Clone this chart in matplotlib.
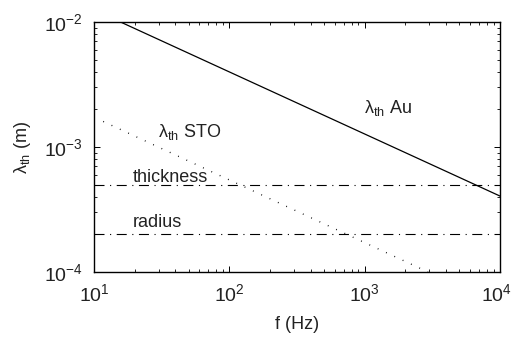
import numpy as np
from matplotlib import pyplot as plt
from matplotlib.ticker import LogLocator, FixedLocator, NullFormatter
from matplotlib.transforms import ScaledTranslation

plt.rcParams['font.family'] = ['Liberation Sans', 'DejaVu Sans']
plt.rcParams['mathtext.fontset'] = 'custom'
plt.rcParams['mathtext.rm'] = 'Liberation Sans'
plt.rcParams['mathtext.it'] = 'Liberation Sans'
plt.rcParams['mathtext.default'] = 'regular'

# end points (straight lines on log-log axes)
au_f = [15.7, 1e4]
au_lam = [1e-2, 4.05e-4]
sto_f = [11.7, 2940]
sto_lam = [1.6e-3, 1e-4]
thickness = 5e-4
radius = 2e-4
xlim = [10, 1e4]
ylim = [1e-4, 1e-2]

fig = plt.figure(figsize=(5.13, 3.4), dpi=100)
ax = fig.add_axes([94 / 513, 68 / 340, 406 / 513, 250 / 340])

ax.loglog(au_f, au_lam, color='black', lw=0.9)
ax.loglog(sto_f, sto_lam, color='black', lw=1.0, linestyle=(0, (0.6, 6)))
ax.plot(xlim, [thickness, thickness], color='black', lw=0.8, linestyle=(0, (9, 5, 1, 5)))
ax.plot(xlim, [radius, radius], color='black', lw=0.8, linestyle=(0, (9, 5, 1, 5)))

ax.set_xlim(xlim)
ax.set_ylim(ylim)

ax.text(1480, 2.05e-3, r'$\lambda_{th}$ Au', fontsize=13, color='#222222', ha='center', va='center')
ax.text(51, 1.32e-3, r'$\lambda_{th}$ STO', fontsize=13, color='#222222', ha='center', va='center')
ax.text(19.2, 5.75e-4, 'thickness', fontsize=13, color='#222222', ha='left', va='center')
ax.text(19.2, 2.47e-4, 'radius', fontsize=13, color='#222222', ha='left', va='center')

ax.xaxis.set_major_locator(FixedLocator([1e1, 1e2, 1e3, 1e4]))
ax.yaxis.set_major_locator(FixedLocator([1e-4, 1e-3, 1e-2]))
ax.set_xticklabels([r'$10^{1}$', r'$10^{2}$', r'$10^{3}$', r'$10^{4}$'])
ax.set_yticklabels([r'$10^{-4}$', r'$10^{-3}$', r'$10^{-2}$'])
ax.xaxis.set_minor_locator(LogLocator(base=10, subs=np.arange(2, 10)))
ax.yaxis.set_minor_locator(LogLocator(base=10, subs=np.arange(2, 10)))
ax.xaxis.set_minor_formatter(NullFormatter())
ax.yaxis.set_minor_formatter(NullFormatter())
ax.tick_params(which='both', direction='in', top=True, right=True, labelsize=14, colors='black', labelcolor='#222222')
ax.tick_params(which='major', length=4, width=0.7, pad=8)
ax.tick_params(which='minor', length=2, width=0.6)
for s in ax.spines.values():
    s.set_linewidth(1.0)

# nudge the last x label so it stays inside the figure
last = ax.get_xticklabels()[-1]
last.set_transform(last.get_transform() + ScaledTranslation(-4 / 100, 0, fig.dpi_scale_trans))

ax.set_xlabel('f (Hz)', fontsize=13, color='#222222', labelpad=8)
ax.set_ylabel(r'$\lambda_{th}$ (m)', fontsize=13, color='#222222', labelpad=8)

fig.savefig('out.png', dpi=100)
